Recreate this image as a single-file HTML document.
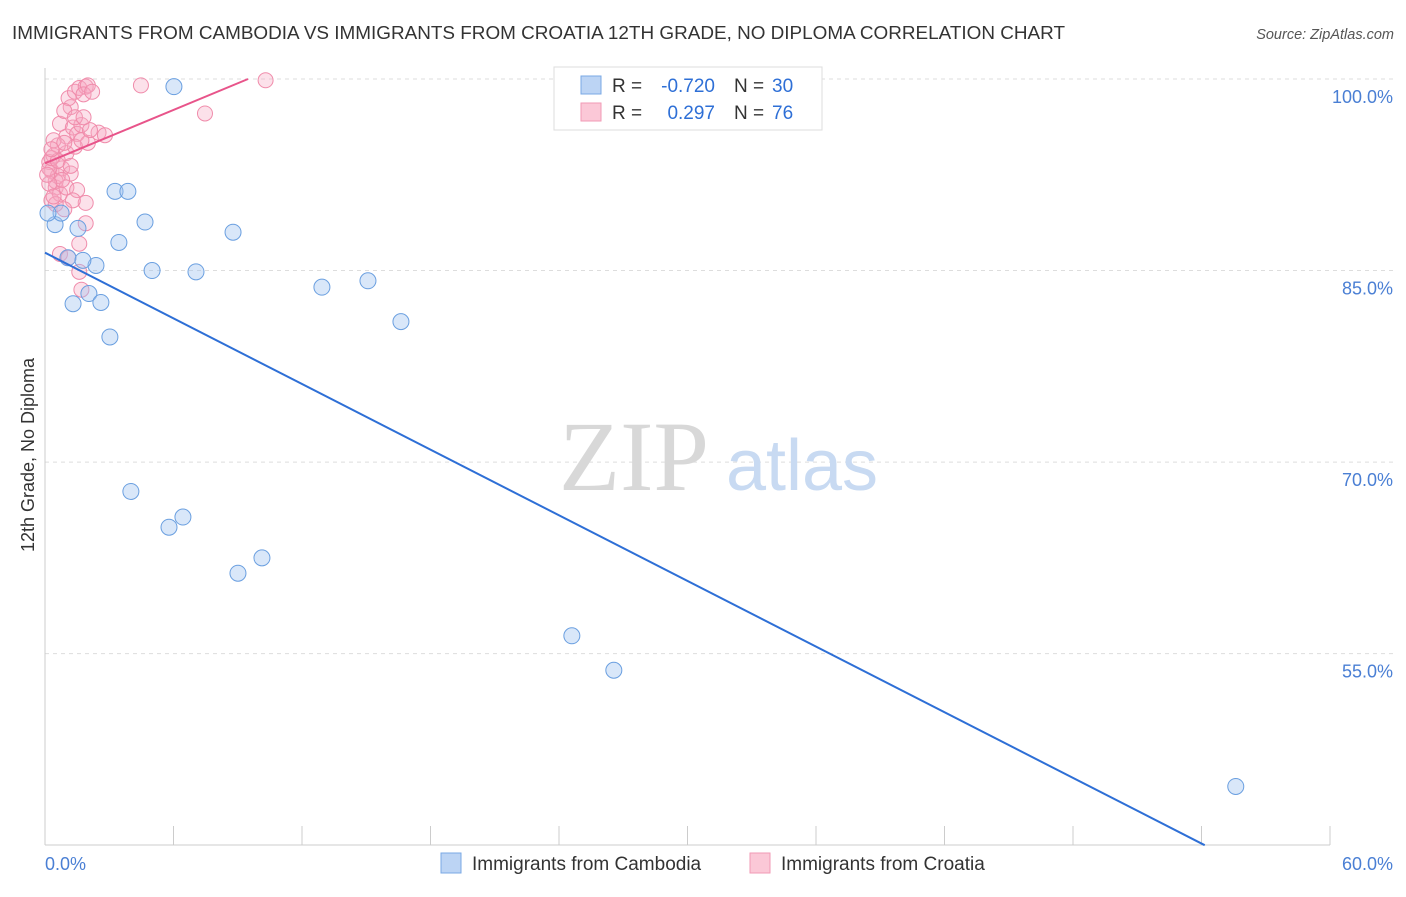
<!DOCTYPE html>
<html><head><meta charset="utf-8">
<style>
body{margin:0;background:#fff;font-family:"Liberation Sans",sans-serif;}
</style></head>
<body>
<svg width="1406" height="892" viewBox="0 0 1406 892" font-family="Liberation Sans, sans-serif">
<text x="12" y="39" font-size="18" fill="#333" textLength="1053" lengthAdjust="spacingAndGlyphs">IMMIGRANTS FROM CAMBODIA VS IMMIGRANTS FROM CROATIA 12TH GRADE, NO DIPLOMA CORRELATION CHART</text>
<text x="1394" y="39" font-size="14.5" fill="#555" font-style="italic" text-anchor="end">Source: ZipAtlas.com</text>
<g id="grid"></g>
<g>
<text x="634" y="490" font-size="100" style="font-family:'Liberation Serif',serif" fill="#d8d8d8" text-anchor="middle">ZIP</text>
<text x="802" y="490" font-size="72" fill="#c8daf2" text-anchor="middle">atlas</text>
</g>
<line x1="45" y1="68" x2="45" y2="845" stroke="#ccc"/>
<line x1="45" y1="845" x2="1330" y2="845" stroke="#ccc"/>
<g id="xticks"></g>
<g id="ylabels"></g>
<text x="45" y="870" font-size="18" fill="#4a7fd4">0.0%</text>
<text x="1393" y="870" font-size="18" fill="#4a7fd4" text-anchor="end">60.0%</text>
<text transform="translate(34,455) rotate(-90)" font-size="18" fill="#333" text-anchor="middle">12th Grade, No Diploma</text>
<g id="pts"></g>
<g id="lines"></g>
<g>
<rect x="554" y="67" width="268" height="63" fill="#fff" stroke="#ddd"/>
<rect x="581" y="76" width="20" height="18" fill="#bcd4f4" stroke="#7aa8e4"/>
<rect x="581" y="103" width="20" height="18" fill="#fbc8d7" stroke="#f19ab5"/>
<text x="612" y="92" font-size="19" fill="#333">R =</text>
<text x="715" y="92" font-size="19" fill="#2e6fd6" text-anchor="end">-0.720</text>
<text x="734" y="92" font-size="19" fill="#333">N =</text>
<text x="772" y="92" font-size="19" fill="#2e6fd6">30</text>
<text x="612" y="119" font-size="19" fill="#333">R =</text>
<text x="715" y="119" font-size="19" fill="#2e6fd6" text-anchor="end">0.297</text>
<text x="734" y="119" font-size="19" fill="#333">N =</text>
<text x="772" y="119" font-size="19" fill="#2e6fd6">76</text>
</g>
<g>
<rect x="441" y="853" width="20" height="20" fill="#bcd4f4" stroke="#7aa8e4"/>
<text x="472" y="870" font-size="19" fill="#333">Immigrants from Cambodia</text>
<rect x="750" y="853" width="20" height="20" fill="#fbc8d7" stroke="#f19ab5"/>
<text x="781" y="870" font-size="19" fill="#333">Immigrants from Croatia</text>
</g>
</svg>
<script>
const yTicks=[100,85,70,55];
const yTickLabels=["100.0%","85.0%","70.0%","55.0%"];
const xTicks=[0,6,12,18,24,30,36,42,48,54,60];
const cambodiaX=[6.02,3.27,3.87,4.67,8.78,3.45,0.47,1.54,0.75,0.14,1.07,2.38,5.0,7.05,12.93,15.08,2.05,1.31,2.61,16.62,3.03,4.01,6.44,5.79,9.01,10.13,24.6,26.56,55.6,1.77];
const cambodiaY=[99.4,91.2,91.2,88.8,88.0,87.2,88.6,88.3,89.5,89.5,86.0,85.4,85.0,84.9,83.7,84.2,83.2,82.4,82.5,81.0,79.8,67.7,65.7,64.9,61.3,62.5,56.4,53.7,44.6,85.8];
const croatiaX=[0.2,0.3,0.4,0.5,0.6,0.3,0.8,1.0,0.7,1.2,1.1,1.4,1.6,1.9,2.0,1.8,0.9,1.3,1.5,1.7,2.0,2.5,2.8,1.0,0.6,0.4,0.2,0.5,0.7,1.2,1.0,1.5,1.9,1.3,0.9,0.5,1.9,1.6,0.7,1.1,1.6,1.7,0.3,0.6,0.8,1.4,1.7,2.1,0.2,0.4,1.2,0.9,1.4,1.8,2.2,4.48,10.3,7.47,0.1,0.3];
const croatiaY=[93.5,92.8,94,91.5,92.4,90.5,93,95.5,96.5,97.8,98.5,99,99.3,99.4,99.5,98.8,97.5,96.2,95.7,96.4,95.0,95.8,95.6,94.2,94.8,95.2,93.0,92.0,91.0,92.6,91.5,91.3,90.3,90.5,89.8,90.2,88.7,87.1,86.3,86.0,84.9,83.5,93.8,93.6,92.1,94.7,95.2,96.0,91.8,90.8,93.2,95.0,97.0,97.0,99.0,99.5,99.9,97.3,92.5,94.5];
const cambodiaTrend=[[0,86.4],[54.15,40]];
const croatiaTrend=[[0,93.4],[9.48,100]];
const NS="http://www.w3.org/2000/svg";
const sx=v=>45+v*(1285/60);
const sy=v=>79+(100-v)*12.77;
function mk(tag,attrs,parent){const e=document.createElementNS(NS,tag);for(const k in attrs)e.setAttribute(k,attrs[k]);parent.appendChild(e);return e;}
const grid=document.getElementById('grid'),yl=document.getElementById('ylabels'),xt=document.getElementById('xticks');
yTicks.forEach((t,i)=>{
 const l=mk('line',{x1:45,x2:1393,y1:sy(t),y2:sy(t),stroke:'#ddd','stroke-dasharray':'4,4'},grid);
 
 
 const tx=mk('text',{x:1393,y:sy(t)+24,'font-size':18,fill:'#4a7fd4','text-anchor':'end'},yl);
 tx.textContent=yTickLabels[i];
 
 
});
xTicks.forEach(t=>{
 const l=mk('line',{x1:sx(t),x2:sx(t),y1:826,y2:845,stroke:'#ccc'},xt);
 
 
});
const pts=document.getElementById('pts');
croatiaX.forEach((x,i)=>{
 const c=mk('circle',{cx:sx(x),cy:sy(croatiaY[i]),r:7.5,fill:'rgba(247,168,195,0.35)',stroke:'#f08cab','stroke-width':1},pts);
 
 
});
cambodiaX.forEach((x,i)=>{
 const c=mk('circle',{cx:sx(x),cy:sy(cambodiaY[i]),r:8,fill:'rgba(160,195,240,0.4)',stroke:'#6a9fe0','stroke-width':1},pts);
 
 
});
const lines=document.getElementById('lines');
const b=mk('line',{x1:sx(cambodiaTrend[0][0]),y1:sy(cambodiaTrend[0][1]),x2:sx(cambodiaTrend[1][0]),y2:sy(cambodiaTrend[1][1]),stroke:'#2e6fd6','stroke-width':2},lines);


const p=mk('line',{x1:sx(croatiaTrend[0][0]),y1:sy(croatiaTrend[0][1]),x2:sx(croatiaTrend[1][0]),y2:sy(croatiaTrend[1][1]),stroke:'#e8548a','stroke-width':2},lines);


</script>
</body></html>
